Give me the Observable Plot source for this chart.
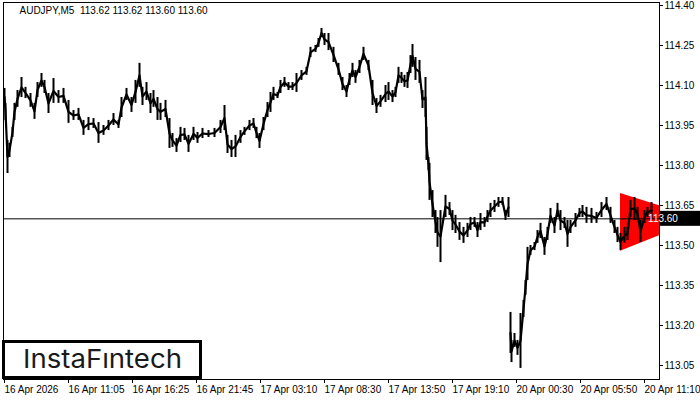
<!DOCTYPE html>
<html>
<head>
<meta charset="utf-8">
<script src="https://cdn.jsdelivr.net/npm/d3@7"></script>
<script src="https://cdn.jsdelivr.net/npm/@observablehq/plot@0.6"></script>
<style>
  html, body { margin: 0; padding: 0; background: #fff; }
</style>
</head>
<body>
<div id="chart"></div>
<script>
// ---- data ----
const symbol = "AUDJPY,M5";
const ohlc = [113.62, 113.62, 113.60, 113.60];
const lastPrice = 113.60;

// bar index (5-minute bars from 16 Apr 2026 05:45), high, low
const bars = [1,2,4,6,9,11,14,18,22,27,31,34,38,41,45,50,55,60,65,70,75,80,85,90,95,100,105,110,115,118,123,128,132,136,139,143,147,150,154,157,162,166,169,173,177,181,185,190,194,199,205,211,217,221,224,228,232,237,241,246,250,253,256,260,264,267,270,274,277,281,285,289,293,298,303,307,312,315,318,321,325,330,335,339,343,346,349,352,356,360,365,369,373,377,382,385,389,392,395,398,401,404,407,409,412,416,419,422,423,425,426,429,432,434,437,442,446,449,452,456,460,464,467,471,474,477,481,484,487,491,495,499,502,505,507,508,511,514,517,520,522,524,527,531,534,537,541,544,547,551,554,557,561,564,567,572,576,579,583,588,593,598,603,607,611,614,617,621,624,627,631,634,637,641,644,648];
const highs = [114.089,114.033,113.894,113.883,113.943,114.033,114.081,114.130,114.093,114.070,
114.033,114.111,114.145,114.119,114.070,114.126,114.081,114.089,114.044,114.006,
114.014,113.969,113.980,113.976,113.961,113.950,113.969,113.995,113.969,114.055,
114.089,114.055,114.119,114.183,114.093,114.111,114.070,114.081,114.055,114.033,
114.044,113.976,113.920,113.901,113.943,113.939,113.913,113.943,113.924,113.939,
113.931,113.939,113.969,114.025,113.913,113.894,113.913,113.931,113.943,113.969,
113.976,113.943,113.920,113.980,114.036,114.074,114.093,114.074,114.119,114.130,
114.111,114.111,114.145,114.156,114.168,114.243,114.250,114.276,114.314,114.295,
114.295,114.243,114.183,114.130,114.100,114.145,114.183,114.156,114.194,114.243,
114.194,114.119,114.051,114.063,114.100,114.111,114.081,114.093,114.168,114.149,
114.138,114.149,114.212,114.254,114.205,114.194,114.081,114.130,113.943,113.830,
113.808,113.706,113.631,113.605,113.631,113.688,113.661,113.631,113.613,113.586,
113.568,113.583,113.605,113.605,113.586,113.620,113.605,113.631,113.658,113.669,
113.680,113.680,113.631,113.680,113.249,113.144,113.170,113.144,113.245,113.294,
113.369,113.493,113.500,113.511,113.556,113.583,113.530,113.568,113.639,113.605,
113.658,113.631,113.605,113.594,113.594,113.620,113.639,113.650,113.643,113.639,
113.624,113.661,113.680,113.643,113.594,113.568,113.545,113.568,113.568,113.669,
113.680,113.643,113.594,113.631,113.643,113.661];
const lows = [114.025,113.969,113.770,113.830,113.905,113.969,114.018,114.055,114.051,114.018,
113.973,114.055,114.093,114.070,113.995,114.033,114.033,114.033,113.958,113.969,
113.969,113.913,113.931,113.939,113.883,113.913,113.931,113.950,113.939,113.980,
114.044,113.999,114.033,114.093,114.025,114.044,113.995,114.018,113.969,113.969,
113.980,113.864,113.868,113.849,113.886,113.894,113.849,113.894,113.883,113.901,
113.905,113.905,113.920,113.931,113.845,113.830,113.830,113.883,113.913,113.931,
113.939,113.901,113.864,113.931,113.980,113.999,114.044,114.051,114.070,114.093,
114.081,114.081,114.074,114.119,114.138,114.205,114.224,114.243,114.280,114.250,
114.231,114.186,114.138,114.081,114.055,114.100,114.130,114.108,114.145,114.194,
114.156,114.025,113.995,114.018,114.036,114.044,114.036,114.055,114.108,114.108,
114.093,114.089,114.145,114.168,114.119,114.108,114.014,113.980,113.819,113.781,
113.669,113.605,113.545,113.493,113.436,113.605,113.613,113.556,113.545,113.519,
113.508,113.530,113.556,113.568,113.530,113.556,113.568,113.586,113.605,113.624,
113.643,113.650,113.594,113.605,113.095,113.061,113.118,113.088,113.039,113.230,
113.313,113.369,113.463,113.481,113.508,113.526,113.463,113.519,113.583,113.545,
113.605,113.556,113.564,113.493,113.545,113.568,113.605,113.605,113.583,113.583,
113.583,113.605,113.631,113.583,113.545,113.511,113.481,113.508,113.519,113.605,
113.594,113.594,113.511,113.583,113.605,113.601];
const mondayStartBar = 506;

// symmetrical triangle pattern (bar index, lower edge, upper edge)
const triBars = [617, 698];
const triLow  = [113.478, 113.60];
const triHigh = [113.695, 113.60];

// axes
const xTickBars = [0,64,128,192,256,320,384,448,512,576,640];
const xTickLabels = ["16 Apr 2026","16 Apr 11:05","16 Apr 16:25","16 Apr 21:45","17 Apr 03:10","17 Apr 08:30","17 Apr 13:50","17 Apr 19:10","20 Apr 00:30","20 Apr 05:50","20 Apr 11:10"];
const yTicks = [113.05,113.20,113.35,113.50,113.65,113.80,113.95,114.10,114.25,114.40];
const brand = "InstaF\u0131ntech";

// ---- build ----
const data = bars.map((b, i) => ({bar: b, hi: highs[i], lo: lows[i], mid: (highs[i] + lows[i]) / 2, session: b >= mondayStartBar ? "mon" : "fri"}));
const tri = triBars.map((b, i) => ({bar: b, lo: triLow[i], hi: triHigh[i]}));
const xLabel = new Map(xTickBars.map((b, i) => [b, xTickLabels[i]]));
const title = `${symbol}  ${ohlc.map(v => v.toFixed(2)).join(" ")}`;

const W = 700, H = 400, mL = 3, mR = 41, mT = 2, mB = 21;
const FONT = "'Liberation Sans', Arial, sans-serif";

const plot = Plot.plot({
  width: W, height: H,
  marginLeft: mL, marginRight: mR, marginTop: mT, marginBottom: mB,
  x: {domain: [0, 656]},
  y: {domain: [112.9975, 114.41125]},
  style: {fontFamily: FONT, fontSize: "10px", color: "#000", background: "#fff", overflow: "visible"},
  marks: [
    Plot.areaY(tri, {x: "bar", y1: "lo", y2: "hi", fill: "#ff0000", clip: true}),
    Plot.ruleY([lastPrice], {stroke: "#000", strokeWidth: 1}),
    Plot.ruleX(data, {x: "bar", y1: "lo", y2: "hi", stroke: "#000", strokeWidth: 2}),
    Plot.line(data, {x: "bar", y: "mid", z: "session", stroke: "#000", strokeWidth: 2.2}),
    Plot.frame({stroke: "#000"}),
    Plot.axisY(yTicks, {anchor: "right", tickSize: 3, tickPadding: 2, tickFormat: d => d.toFixed(2), label: null, fill: "#000"}),
    Plot.axisX(xTickBars, {anchor: "bottom", tickSize: 4, tickPadding: 2, tickFormat: d => xLabel.get(d), textAnchor: "start", dx: 1, label: null, fill: "#000"}),
    Plot.text([title], {frameAnchor: "top-left", dx: 16, dy: 4, fill: "#000", fontSize: 10})
  ]
});

document.getElementById("chart").appendChild(plot);

// current price marker on the axis
const svg = d3.select(plot);
const yPos = plot.scale("y").apply(lastPrice);
const axisX0 = W - mR + 1;
svg.append("rect").attr("x", axisX0).attr("y", yPos - 7.5).attr("width", W - axisX0).attr("height", 15).attr("fill", "#000");
svg.append("text").attr("x", axisX0 + 3).attr("y", yPos).attr("dy", "0.35em")
  .attr("fill", "#fff").attr("font-size", 10).attr("font-family", FONT)
  .text(lastPrice.toFixed(2));

// brand box
const g = svg.append("g");
g.append("rect").attr("x", 3.5).attr("y", 341.5).attr("width", 197).attr("height", 36)
  .attr("fill", "#fff").attr("stroke", "#000").attr("stroke-width", 3);
g.append("text").attr("x", 102.5).attr("y", 368).attr("text-anchor", "middle")
  .attr("font-family", "Inter, Lato, sans-serif").attr("font-size", 26).attr("font-weight", 400)
  .attr("fill", "#1a1a1a").attr("textLength", 159).attr("lengthAdjust", "spacingAndGlyphs")
  .text(brand);
</script>
</body>
</html>
